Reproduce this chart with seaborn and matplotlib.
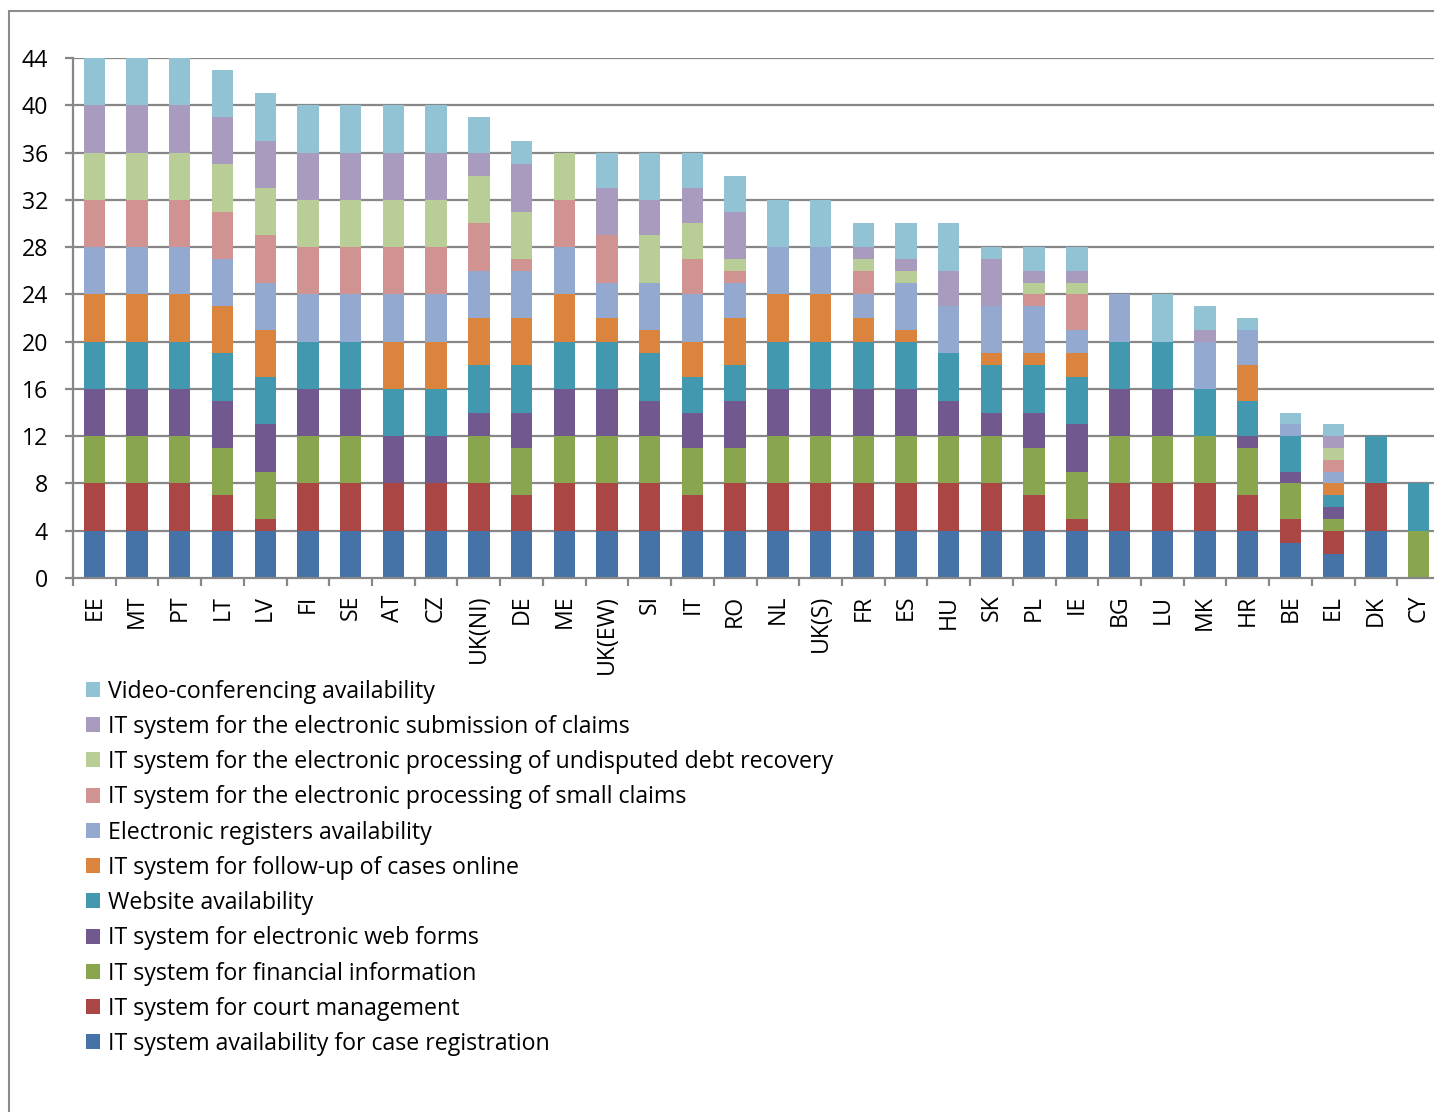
import matplotlib
matplotlib.use("Agg")
import matplotlib.pyplot as plt
from matplotlib.patches import Patch, Rectangle
import numpy as np
import pandas as pd
import seaborn as sns

countries = ["EE", "MT", "PT", "LT", "LV", "FI", "SE", "AT", "CZ", "UK(NI)", "DE", "ME",
             "UK(EW)", "SI", "IT", "RO", "NL", "UK(S)", "FR", "ES", "HU", "SK", "PL", "IE",
             "BG", "LU", "MK", "HR", "BE", "EL", "DK", "CY"]

case_registration = [4, 4, 4, 4, 4, 4, 4, 4, 4, 4, 4, 4, 4, 4, 4, 4, 4, 4, 4, 4, 4, 4, 4, 4, 4, 4, 4, 4, 3, 2, 4, 0]
court_management  = [4, 4, 4, 3, 1, 4, 4, 4, 4, 4, 3, 4, 4, 4, 3, 4, 4, 4, 4, 4, 4, 4, 3, 1, 4, 4, 4, 3, 2, 2, 4, 0]
financial_info    = [4, 4, 4, 4, 4, 4, 4, 0, 0, 4, 4, 4, 4, 4, 4, 3, 4, 4, 4, 4, 4, 4, 4, 4, 4, 4, 4, 4, 3, 1, 0, 4]
web_forms         = [4, 4, 4, 4, 4, 4, 4, 4, 4, 2, 3, 4, 4, 3, 3, 4, 4, 4, 4, 4, 3, 2, 3, 4, 4, 4, 0, 1, 1, 1, 0, 0]
website           = [4, 4, 4, 4, 4, 4, 4, 4, 4, 4, 4, 4, 4, 4, 3, 3, 4, 4, 4, 4, 4, 4, 4, 4, 4, 4, 4, 3, 3, 1, 4, 4]
follow_up         = [4, 4, 4, 4, 4, 0, 0, 4, 4, 4, 4, 4, 2, 2, 3, 4, 4, 4, 2, 1, 0, 1, 1, 2, 0, 0, 0, 3, 0, 1, 0, 0]
registers         = [4, 4, 4, 4, 4, 4, 4, 4, 4, 4, 4, 4, 3, 4, 4, 3, 4, 4, 2, 4, 4, 4, 4, 2, 4, 0, 4, 3, 1, 1, 0, 0]
small_claims      = [4, 4, 4, 4, 4, 4, 4, 4, 4, 4, 1, 4, 4, 0, 3, 1, 0, 0, 2, 0, 0, 0, 1, 3, 0, 0, 0, 0, 0, 1, 0, 0]
undisputed_debt   = [4, 4, 4, 4, 4, 4, 4, 4, 4, 4, 4, 4, 0, 4, 3, 1, 0, 0, 1, 1, 0, 0, 1, 1, 0, 0, 0, 0, 0, 1, 0, 0]
e_submission      = [4, 4, 4, 4, 4, 4, 4, 4, 4, 2, 4, 0, 4, 3, 3, 4, 0, 0, 1, 1, 3, 4, 1, 1, 0, 0, 1, 0, 0, 1, 0, 0]
video_conf        = [4, 4, 4, 4, 4, 4, 4, 4, 4, 3, 2, 0, 3, 4, 3, 3, 4, 4, 2, 3, 4, 1, 2, 2, 0, 4, 2, 1, 1, 1, 0, 0]

# stacking order, bottom to top
series = [
    ("IT system availability for case registration", case_registration, "#4572A7"),
    ("IT system for court management", court_management, "#AA4643"),
    ("IT system for financial information", financial_info, "#89A54E"),
    ("IT system for electronic web forms", web_forms, "#71588F"),
    ("Website availability", website, "#4198AF"),
    ("IT system for follow-up of cases online", follow_up, "#DB843D"),
    ("Electronic registers availability", registers, "#93A9CF"),
    ("IT system for the electronic processing of small claims", small_claims, "#D19392"),
    ("IT system for the electronic processing of undisputed debt recovery", undisputed_debt, "#B9CD96"),
    ("IT system for the electronic submission of claims", e_submission, "#A99BBD"),
    ("Video-conferencing availability", video_conf, "#92C3D4"),
]

sns.set_theme(style="white")
plt.rcParams["font.family"] = ["Open Sans", "DejaVu Sans"]

W, H = 1434, 1112
fig = plt.figure(figsize=(W / 100, H / 100), dpi=100)
ax_left, ax_right, ax_bottom, ax_top = 73, 1440, 578, 58
ax = fig.add_axes([ax_left / W, (H - ax_bottom) / H,
                   (ax_right - ax_left) / W, (ax_bottom - ax_top) / H])

grid_col = "#878787"
for yv in range(4, 45, 4):
    ax.axhline(yv, color=grid_col, lw=1.6, zorder=0)

bottom = np.zeros(len(countries))
for name, vals, col in series:
    df = pd.DataFrame({"country": countries, "value": vals})
    sns.barplot(data=df, x="country", y="value", order=countries, color=col,
                width=0.5, bottom=bottom.copy(), edgecolor="none", linewidth=0,
                saturation=1, ax=ax, zorder=2)
    bottom += np.array(vals, dtype=float)

ax.set_xlim(-0.5, len(countries) - 0.5)
ax.set_ylim(0, 44)
ax.set_yticks(range(0, 45, 4))
ax.set_xlabel("")
ax.set_ylabel("")

for side in ["top", "right"]:
    ax.spines[side].set_visible(False)
for side in ["left", "bottom"]:
    ax.spines[side].set_visible(True)
    ax.spines[side].set_color(grid_col)
    ax.spines[side].set_linewidth(1.6)

tick_size = 16.7
ax.tick_params(axis="y", which="major", direction="out", length=6, width=1.6,
               color=grid_col, pad=12, labelsize=tick_size, labelcolor="black", left=True)
ax.set_xticks(np.arange(len(countries)))
ax.set_xticklabels(countries, rotation=90)
ax.set_xticks(np.arange(-0.5, len(countries) - 0.4, 1), minor=True)
ax.tick_params(axis="x", which="major", length=0, pad=12, labelsize=tick_size, labelcolor="black")
ax.tick_params(axis="x", which="minor", direction="out", length=6, width=1.6,
               color=grid_col, bottom=True)
for lab in ax.get_xticklabels():
    lab.set_verticalalignment("top")

# legend listed from the top of the stack downwards
handles = [Patch(facecolor=col, edgecolor="none") for _, _, col in series[::-1]]
labels = [name for name, _, _ in series[::-1]]
leg = fig.legend(handles, labels, loc="upper left",
                 bbox_to_anchor=(81 / W, 1 - 675 / H), frameon=False,
                 fontsize=16.7, handlelength=0.62, handleheight=0.62,
                 handletextpad=0.36, labelspacing=0.485, borderaxespad=0,
                 borderpad=0.2)
for t in leg.get_texts():
    t.set_color("black")

# outer chart border
fig.patches.append(Rectangle((9 / W, -0.1), 1.2, 1 - 11 / H + 0.1,
                             transform=fig.transFigure, fill=False,
                             edgecolor="#8C8C8C", lw=1.5, zorder=0))

fig.savefig("out.png", dpi=100)
